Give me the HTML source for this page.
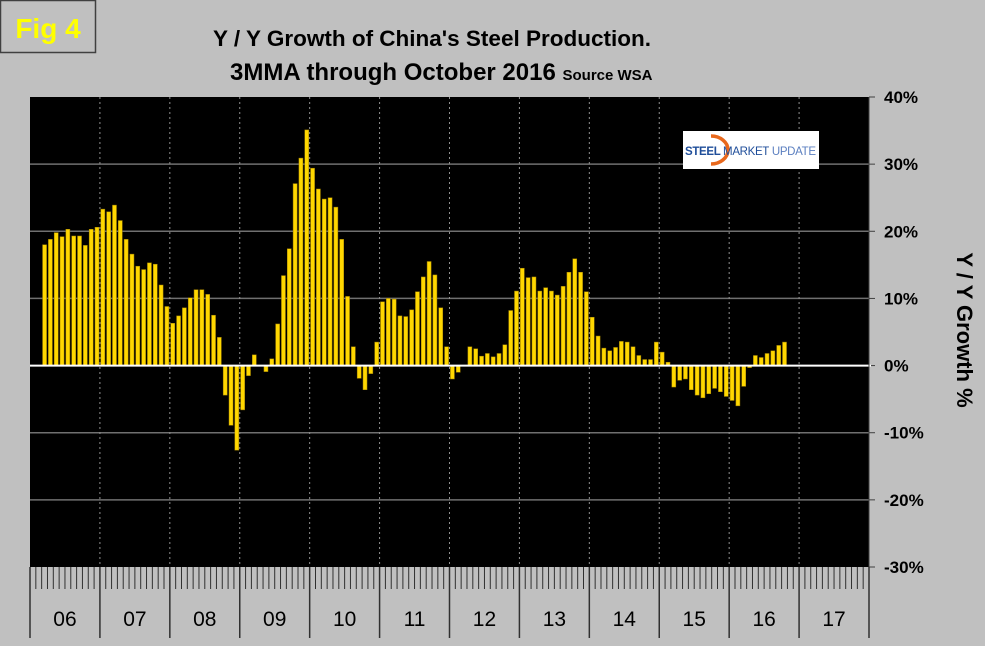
<!DOCTYPE html>
<html><head><meta charset="utf-8"><style>
html,body{margin:0;padding:0;background:#c0c0c0;}
svg{display:block;font-family:"Liberation Sans",Arial,sans-serif;}
</style></head><body>
<svg id="chart" width="985" height="646" viewBox="0 0 985 646">
<rect x="0" y="0" width="985" height="646" fill="#c0c0c0"/>
<g>
<rect x="0.5" y="0.5" width="95" height="52" fill="#c0c0c0" stroke="#404040" stroke-width="1.5"/>
<text x="48" y="38" text-anchor="middle" font-size="28" font-weight="bold" fill="#ffff00">Fig 4</text>
</g>
<text x="432" y="46" text-anchor="middle" font-size="22.5" font-weight="bold" fill="#000">Y / Y Growth of China's Steel Production.</text>
<text x="230" y="80" font-size="24" font-weight="bold" fill="#000">3MMA through October 2016 <tspan font-size="15">Source WSA</tspan></text>
<rect x="30" y="97" width="839" height="470" fill="#000"/>
<g id="grid"></g>
<g id="bars"></g>
<g id="axes"></g>
<g>
<rect x="683" y="131" width="136" height="38" fill="#fff"/>
<path d="M711 136 A17 14 0 0 1 711 164" fill="none" stroke="#e8681c" stroke-width="3.5"/>
<text x="685" y="155" font-size="11.5" font-weight="bold" fill="#1f4e9a" textLength="131">STEEL <tspan font-weight="normal">MARKET</tspan> <tspan font-weight="normal" fill="#5b7fc0">UPDATE</tspan></text>
</g>
<text transform="translate(957,330) rotate(90)" text-anchor="middle" font-size="22" font-weight="bold" fill="#000">Y / Y Growth %</text>
</svg>
<script>
const years = ["06","07","08","09","10","11","12","13","14","15","16","17"];
const yTicks = [40,30,20,10,0,-10,-20,-30];
const values2006 = [18.0,18.8,19.8,19.2,20.3,19.3,19.3,17.9,20.3,20.6];
const values2007 = [23.3,22.9,23.9,21.6,18.8,16.6,14.8,14.3,15.3,15.1,12.0,8.8];
const values2008 = [6.3,7.4,8.6,10.1,11.3,11.3,10.6,7.5,4.2,-4.4,-8.9,-12.6];
const values2009 = [-6.6,-1.5,1.6,0,-0.9,1.0,6.2,13.4,17.4,27.1,30.9,35.1];
const values2010 = [29.4,26.3,24.8,25.0,23.6,18.8,10.3,2.8,-1.9,-3.6,-1.2,3.5];
const values2011 = [9.5,10.0,9.9,7.4,7.3,8.3,11.0,13.2,15.5,13.5,8.6,2.8];
const values2012 = [-2.0,-1.0,0,2.8,2.5,1.4,1.8,1.3,1.8,3.1,8.2,11.1];
const values2013 = [14.5,13.1,13.2,11.1,11.6,11.1,10.5,11.8,13.9,15.9,13.9,11.0];
const values2014 = [7.2,4.4,2.6,2.2,2.7,3.6,3.5,2.8,1.5,0.9,0.9,3.5];
const values2015 = [2.0,0.5,-3.2,-2.2,-2.0,-3.6,-4.4,-4.8,-4.2,-3.4,-3.9,-4.6];
const values2016 = [-5.2,-6.0,-3.1,-0.3,1.5,1.2,1.8,2.2,3.0,3.5];
const startMonth = 2; // March 2006 (0-based)
const values = [].concat(values2006,values2007,values2008,values2009,values2010,values2011,values2012,values2013,values2014,values2015,values2016);

const NS="http://www.w3.org/2000/svg";
const X0=30, X1=869, YT=97, YB=567, YMAX=40, YMIN=-30;
const monthW=(X1-X0)/(years.length*12);
function xScale(m){return X0+m*monthW;}
function yScale(v){return YT+(YMAX-v)/(YMAX-YMIN)*(YB-YT);}
function mk(tag,attrs,parent){const e=document.createElementNS(NS,tag);for(const k in attrs)e.setAttribute(k,attrs[k]);parent.appendChild(e);return e;}
const grid=document.getElementById('grid'), barsG=document.getElementById('bars'), axes=document.getElementById('axes');

yTicks.forEach(t=>{
  const y=yScale(t);
  if(t!==0 && t!==YMAX && t!==YMIN){
    const l=mk('line',{x1:X0,x2:X1,y1:y,y2:y,stroke:'#707070','stroke-width':1.5},grid);
    
    
  }
  const tk=mk('line',{x1:X1,x2:X1+6,y1:y,y2:y,stroke:'#404040','stroke-width':1},axes);
  
  
  const tx=mk('text',{x:884,y:y+6,'font-size':17,'font-weight':'bold',fill:'#000'},axes);
  tx.textContent=t+'%';
  
  
});
for(let i=1;i<years.length;i++){
  const x=xScale(i*12);
  const l=mk('line',{x1:x,x2:x,y1:YT,y2:YB,stroke:'#909090','stroke-width':1,'stroke-dasharray':'2,3'},grid);
  
  
}
values.forEach((v,i)=>{
  const m=startMonth+i;
  const x=xScale(m)+0.9;
  const y0=yScale(0), y=yScale(v);
  const r=mk('rect',{x:x,y:Math.min(y,y0),width:monthW-1.8,height:Math.max(Math.abs(y0-y),0.5),fill:'#ffd700',stroke:'#a08000','stroke-width':0.5},barsG);
  
  
});
const zl=mk('line',{x1:X0,x2:X1+2,y1:yScale(0),y2:yScale(0),stroke:'#fff','stroke-width':2},axes);


const ra=mk('line',{x1:X1,x2:X1,y1:YT,y2:YB,stroke:'#404040','stroke-width':1},axes);


for(let m=0;m<=years.length*12;m++){
  const x=xScale(m);
  const yr=(m%12===0);
  const t=mk('line',{x1:x,x2:x,y1:YB,y2:yr?638:589,stroke:'#303030','stroke-width':yr?1.5:1},axes);
  
  
}
years.forEach((yv,i)=>{
  const tx=mk('text',{x:xScale(i*12+6),y:626,'text-anchor':'middle','font-size':21,fill:'#000'},axes);
  tx.textContent=yv;
  
  
});
</script>
</body></html>
